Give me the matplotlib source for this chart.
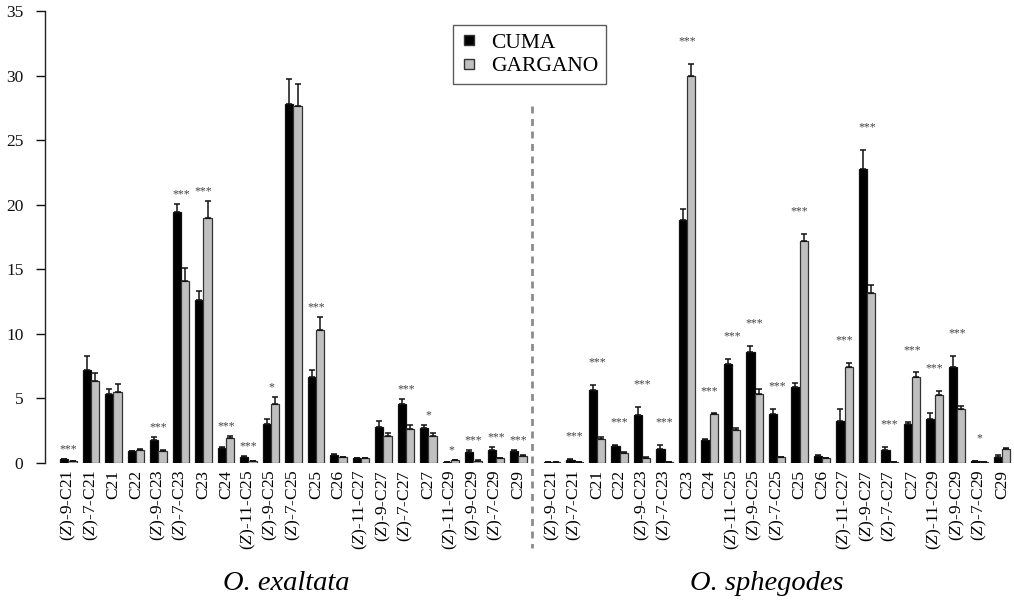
import matplotlib
matplotlib.use("Agg")
import matplotlib.pyplot as plt
from matplotlib.lines import Line2D
import numpy as np

plt.rcParams['font.family'] = ['Liberation Serif', 'DejaVu Serif']
plt.rcParams['mathtext.fontset'] = 'custom'
plt.rcParams['mathtext.it'] = 'Liberation Serif:italic'
plt.rcParams['mathtext.rm'] = 'Liberation Serif'
plt.rcParams['lines.scale_dashes'] = False

compounds = ['($Z$)-9-C21', '($Z$)-7-C21', 'C21', 'C22', '($Z$)-9-C23', '($Z$)-7-C23',
             'C23', 'C24', '($Z$)-11-C25', '($Z$)-9-C25', '($Z$)-7-C25', 'C25', 'C26',
             '($Z$)-11-C27', '($Z$)-9-C27', '($Z$)-7-C27', 'C27', '($Z$)-11-C29',
             '($Z$)-9-C29', '($Z$)-7-C29', 'C29']
species = ['O. exaltata', 'O. sphegodes']
populations = ['CUMA', 'GARGANO']

# O. exaltata
exa_cuma = [0.26, 7.2, 5.3, 0.87, 1.8, 19.45, 12.6, 1.13, 0.44, 2.97, 27.8, 6.65,
            0.59, 0.36, 2.8, 4.54, 2.69, 0.03, 0.85, 1.0, 0.92]
exa_cuma_err = [0.04, 1.1, 0.42, 0.05, 0.16, 0.65, 0.75, 0.08, 0.05, 0.43, 1.95, 0.52,
                0.1, 0.03, 0.43, 0.38, 0.26, 0.02, 0.1, 0.2, 0.05]
exa_garg = [0.1, 6.3, 5.5, 1.0, 0.92, 14.07, 18.96, 1.95, 0.13, 4.54, 27.67, 10.3,
            0.41, 0.36, 2.1, 2.64, 2.1, 0.18, 0.15, 0.33, 0.51]
exa_garg_err = [0.02, 0.65, 0.6, 0.08, 0.05, 1.0, 1.32, 0.15, 0.02, 0.54, 1.73, 1.0,
                0.04, 0.03, 0.23, 0.26, 0.23, 0.03, 0.03, 0.05, 0.05]
exa_sig = ['***', '', '', '', '***', '***', '***', '***', '***', '*', '', '***', '',
           '', '', '***', '*', '*', '***', '***', '***']

# O. sphegodes
sph_cuma = [0.03, 0.23, 5.65, 1.32, 3.7, 1.09, 18.86, 1.77, 7.62, 8.62, 3.78, 5.88,
            0.52, 3.24, 22.8, 1.01, 3.03, 3.42, 7.46, 0.13, 0.47]
sph_cuma_err = [0.0, 0.05, 0.35, 0.05, 0.63, 0.31, 0.84, 0.04, 0.43, 0.43, 0.37, 0.31,
                0.05, 0.93, 1.45, 0.21, 0.13, 0.41, 0.8, 0.03, 0.15]
sph_garg = [0.03, 0.03, 1.84, 0.78, 0.36, 0.03, 30.0, 3.74, 2.56, 5.36, 0.41, 17.23,
            0.36, 7.41, 13.13, 0.05, 6.68, 5.23, 4.2, 0.03, 1.04]
sph_garg_err = [0.0, 0.0, 0.16, 0.04, 0.05, 0.0, 0.9, 0.08, 0.16, 0.38, 0.04, 0.54,
                0.03, 0.34, 0.63, 0.02, 0.32, 0.34, 0.2, 0.0, 0.07]
sph_sig = ['', '***', '***', '***', '***', '***', '***', '***', '***', '***', '***', '***',
           '', '***', '***', '***', '***', '***', '***', '*', '']

fig = plt.figure(figsize=(10.14, 6.01), dpi=100)
ax = fig.add_axes([45 / 1014, 0.2301, 1 - 45 / 1014, 0.7508])

n = len(compounds)
pos_l = np.arange(n, dtype=float)
pos_r = np.arange(n, dtype=float) + n + 0.5
w = 0.37
black = '#000000'
grey = '#c0c0c0'
ekw = dict(elinewidth=1.1, capthick=1.1, ecolor='#111111')

groups = [
    (pos_l, exa_cuma, exa_cuma_err, exa_garg, exa_garg_err, exa_sig, 0.75),
    (pos_r, sph_cuma, sph_cuma_err, sph_garg, sph_garg_err, sph_sig, 1.75),
]
for k, (pos, c, ce, g, ge, sig, off) in enumerate(groups):
    c = np.array(c); ce = np.array(ce); g = np.array(g); ge = np.array(ge)
    ax.bar(pos - w / 2, c, w, color=black, edgecolor='#111111', linewidth=0.9,
           yerr=[np.zeros(n), ce], capsize=2.3, error_kw=ekw)
    ax.bar(pos + w / 2, g, w, color=grey, edgecolor='#333333', linewidth=0.9,
           yerr=[np.zeros(n), ge], capsize=2.3, error_kw=ekw)
    tops = np.maximum(c + ce, g + ge)
    for x, t, s in zip(pos, tops, sig):
        if s:
            ax.text(x, t + off, s, ha='center', va='center', fontsize=8.5,
                    color='#444444')

ax.set_xlim(-1.04, 42.03)
ax.set_ylim(0, 35)
ax.set_yticks(np.arange(0, 36, 5))
ax.tick_params(axis='y', length=6.5, width=1, labelsize=12.5, pad=9, colors='#111111')
ax.set_xticks(np.concatenate([pos_l, pos_r]))
ax.set_xticklabels(compounds + compounds, rotation=90, fontsize=12.5)
ax.tick_params(axis='x', length=0, pad=5)
for s in ['top', 'right', 'bottom']:
    ax.spines[s].set_visible(False)
ax.spines['left'].set_color('#222222')
ax.spines['left'].set_linewidth(1)

# separator
sep = Line2D([20.6, 20.6], [27.7, -6.6], color='#8c8c8c', lw=2, clip_on=False)
sep.set_dashes((5.0, 4.0))
ax.add_line(sep)

# species labels
ax.text(pos_l.mean() - 0.3, -9.4, species[0], ha='center', va='center',
        fontsize=20.5, style='italic')
ax.text(pos_r.mean() - 0.45, -9.4, species[1], ha='center', va='center',
        fontsize=20.5, style='italic')

handles = [Line2D([], [], ls='none', marker='s', markersize=7, markerfacecolor=black,
                  markeredgecolor='#333333'),
           Line2D([], [], ls='none', marker='s', markersize=7, markerfacecolor=grey,
                  markeredgecolor='#333333')]
leg = fig.legend(handles, populations, loc='upper left', bbox_to_anchor=(0.447, 0.958),
                 bbox_transform=fig.transFigure, borderaxespad=0, fontsize=15.5,
                 frameon=True, fancybox=False, handlelength=0.8, handletextpad=0.6,
                 borderpad=0.35, labelspacing=0.15)
leg.get_frame().set_edgecolor('#333333')
leg.get_frame().set_linewidth(1)

fig.savefig('out.png', dpi=100)
